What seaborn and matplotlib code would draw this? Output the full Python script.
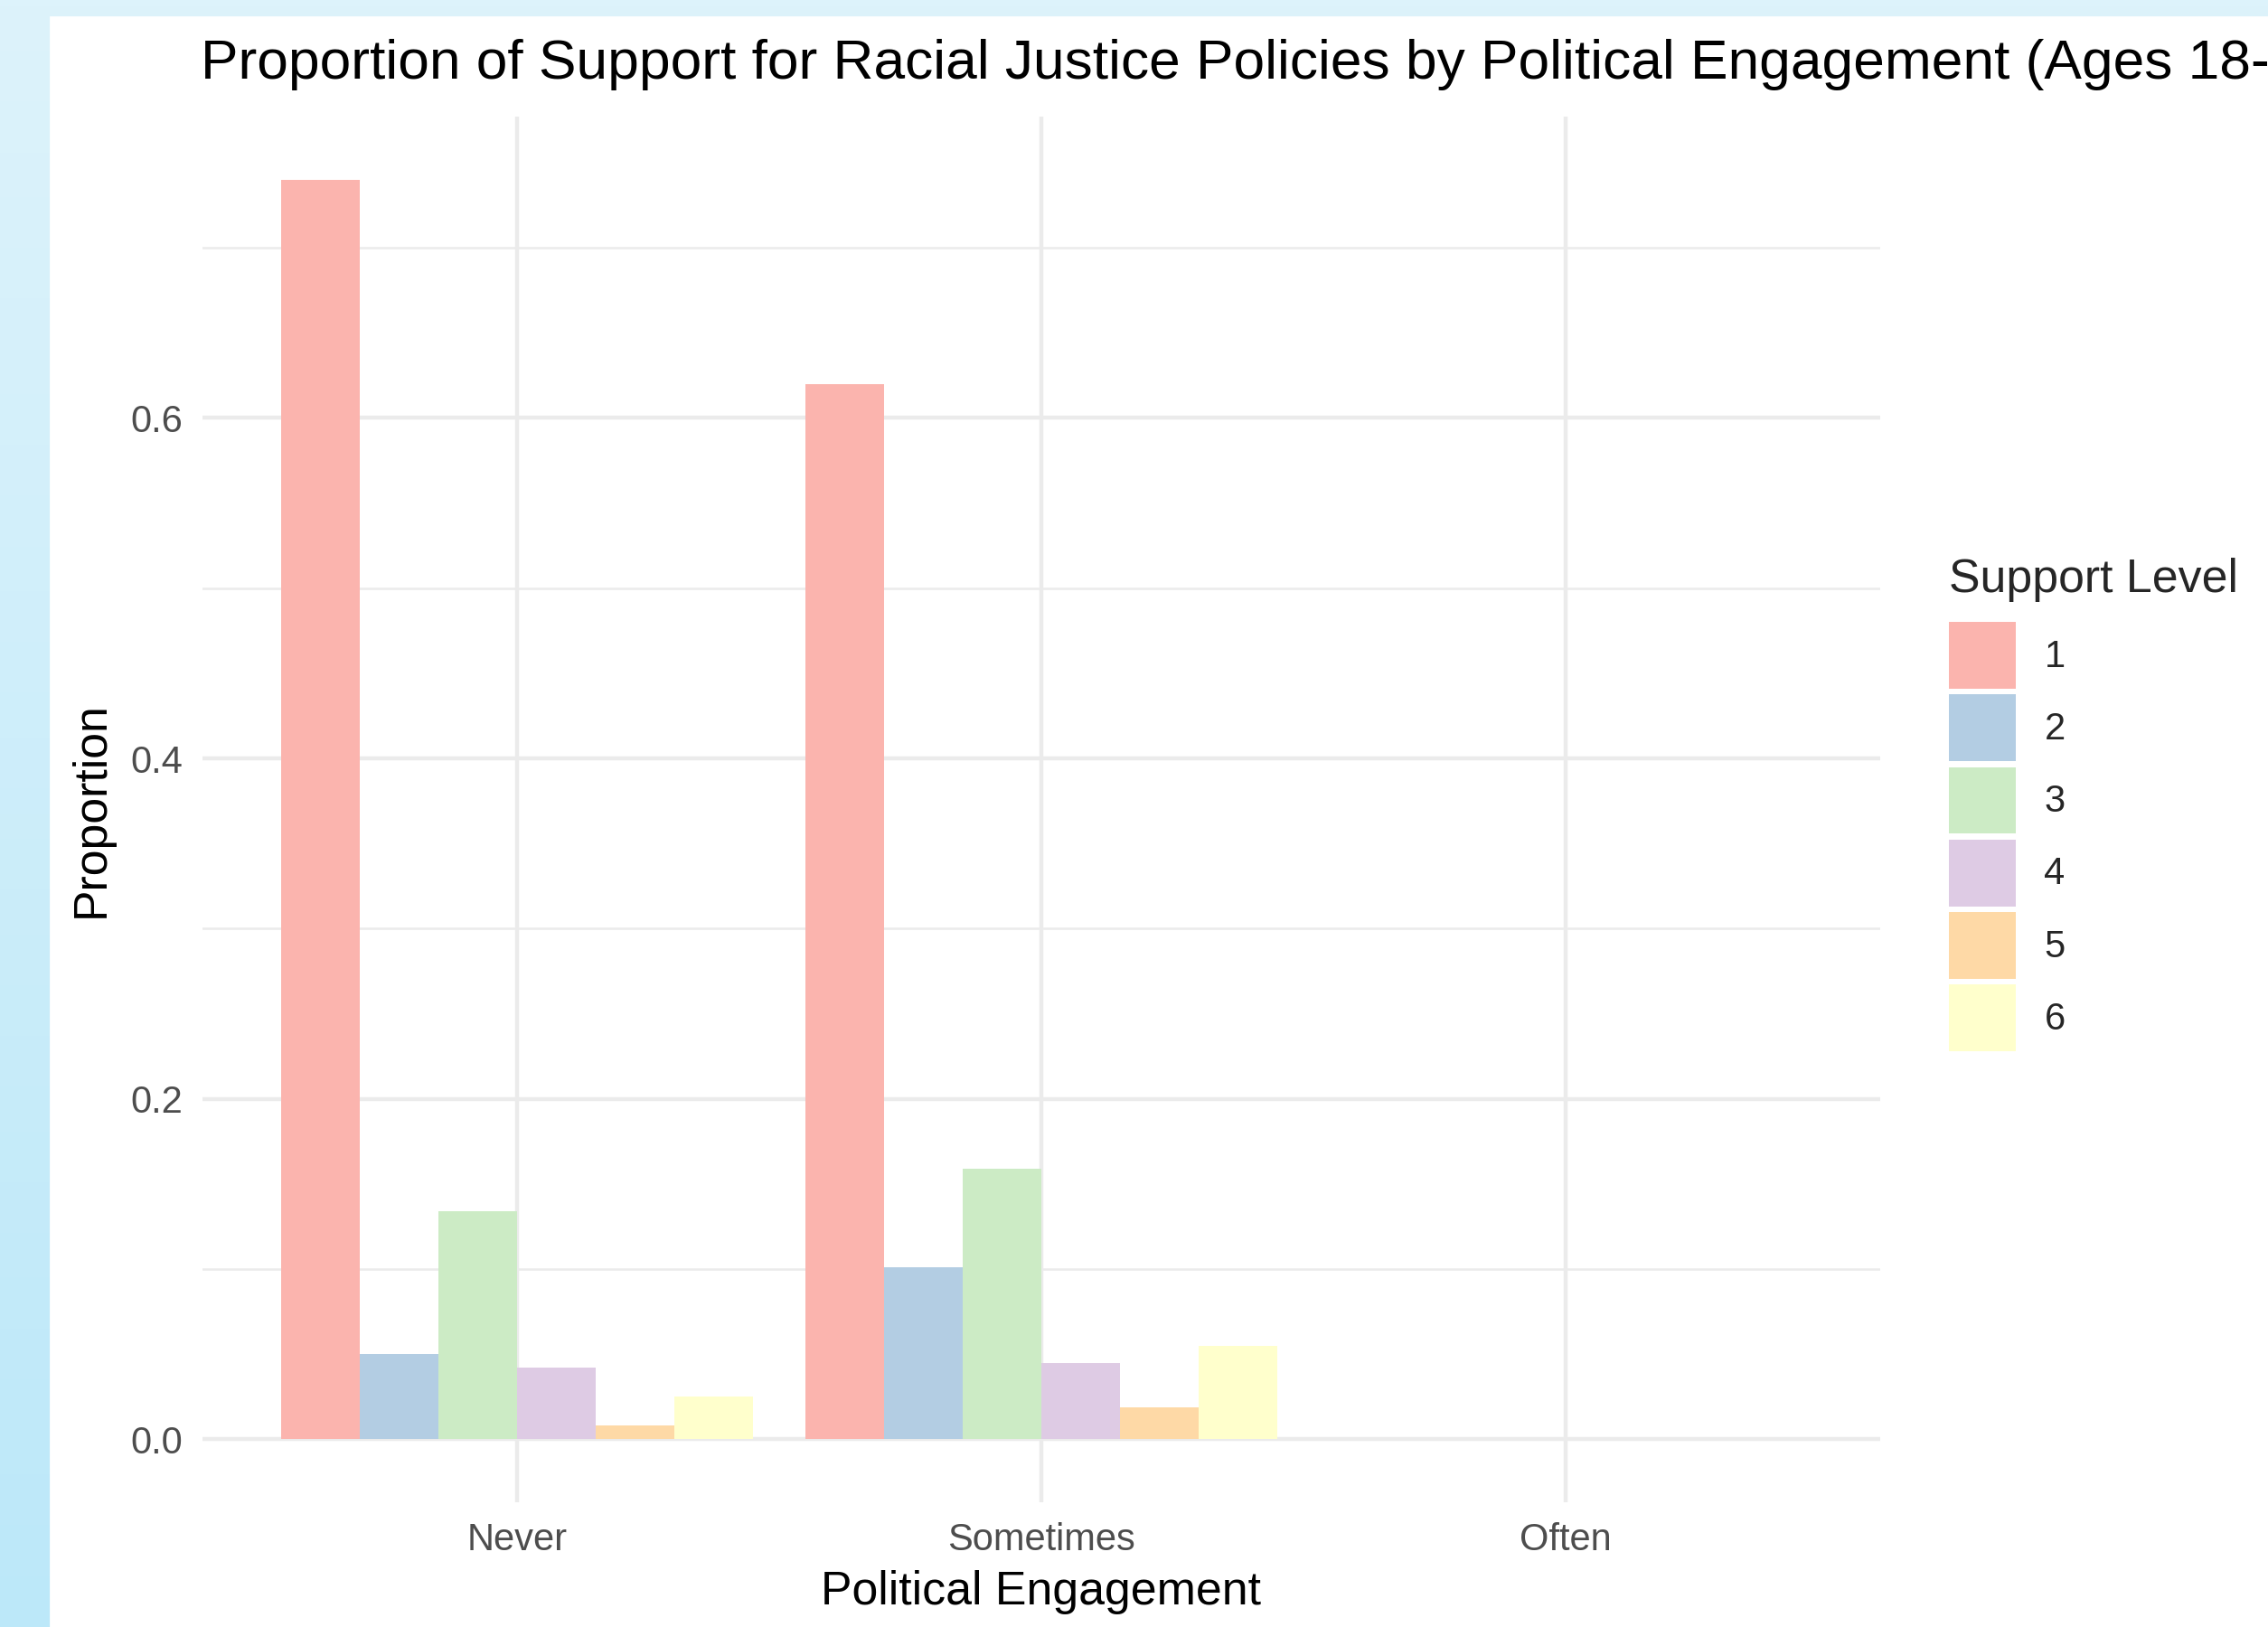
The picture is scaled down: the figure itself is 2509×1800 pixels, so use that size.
import numpy as np
import pandas as pd
import matplotlib
matplotlib.use("Agg")
import matplotlib.pyplot as plt
import seaborn as sns

engagement = ["Never", "Sometimes", "Often"]
support_levels = ["1", "2", "3", "4", "5", "6"]
never_vals = [0.740, 0.050, 0.134, 0.042, 0.008, 0.025]
sometimes_vals = [0.620, 0.101, 0.159, 0.045, 0.019, 0.055]
often_vals = [0.0, 0.0, 0.0, 0.0, 0.0, 0.0]
pastel1 = ["#FBB4AE", "#B3CDE3", "#CCEBC5", "#DECBE4", "#FED9A6", "#FFFFCC"]

rows = []
for eng, vals in zip(engagement, [never_vals, sometimes_vals, often_vals]):
    for lvl, v in zip(support_levels, vals):
        rows.append({"Political Engagement": eng, "Support Level": lvl, "Proportion": v})
df = pd.DataFrame(rows)

sns.set_theme(style="white")
plt.rcParams["font.family"] = ["Liberation Sans", "DejaVu Sans"]

W, H = 2509, 1800
DPI = 200
fig = plt.figure(figsize=(W / DPI, H / DPI), dpi=DPI)

# light blue gradient background with a white card on top
bg = fig.add_axes([0, 0, 1, 1], zorder=-10)
grad = np.linspace(0, 1, 256).reshape(-1, 1)
top_c = np.array([0xDD, 0xF3, 0xFB]) / 255
bot_c = np.array([0xBC, 0xE8, 0xF9]) / 255
img = top_c + (bot_c - top_c) * grad[..., None]
bg.imshow(img, aspect="auto", extent=[0, 1, 0, 1], origin="upper")
bg.add_patch(plt.Rectangle((56 / W, 0), 1, 1 - 19 / H, color="white", transform=bg.transAxes))
bg.set_xlim(0, 1)
bg.set_ylim(0, 1)
bg.axis("off")

ax_top, ax_bot = 129, 1662
ax = fig.add_axes([224 / W, 1 - ax_bot / H, (2080 - 224) / W, (ax_bot - ax_top) / H])
ax.set_facecolor("none")

sns.barplot(data=df, x="Political Engagement", y="Proportion", hue="Support Level",
            order=engagement, hue_order=support_levels, palette=pastel1,
            width=0.9, saturation=1, linewidth=0, ax=ax, legend=True)

ax.set_xlim(-0.6, 2.6)
ax.set_ylim(-0.037, 0.777)
ax.set_yticks([0.0, 0.2, 0.4, 0.6])
ax.set_yticks([0.1, 0.3, 0.5, 0.7], minor=True)
ax.set_yticklabels(["0.0", "0.2", "0.4", "0.6"])
ax.grid(True, which="major", axis="both", color="#EBEBEB", linewidth=1.6)
ax.grid(True, which="minor", axis="y", color="#EBEBEB", linewidth=0.9)
ax.set_axisbelow(True)
for s in ax.spines.values():
    s.set_visible(False)
ax.tick_params(axis="both", which="both", length=0, labelsize=15, labelcolor="#4D4D4D")
ax.tick_params(axis="x", pad=8)
ax.tick_params(axis="y", pad=8)

ax_h = ax_bot - ax_top
ax.set_xlabel("Political Engagement", fontsize=18.7, color="black")
ax.xaxis.label.set_va("center")
ax.xaxis.set_label_coords(0.5, (ax_bot - 1762) / ax_h)
ax.set_ylabel("Proportion", fontsize=18.7, color="black")
ax.yaxis.label.set_va("center")
ax.yaxis.set_label_coords((101 - 224) / 1856, 0.5)

fig.text(222 / W, 1 - 71 / H,
         "Proportion of Support for Racial Justice Policies by Political Engagement (Ages 18-24)",
         fontsize=22.4, ha="left", va="center", color="black")

leg = ax.legend(title="Support Level", loc="upper left",
                bbox_to_anchor=(2156 / W, 1 - 617 / H), bbox_transform=fig.transFigure,
                frameon=False, fontsize=15, title_fontsize=18.7,
                handlelength=1.78, handleheight=2.35, labelspacing=0.15,
                handletextpad=0.75, borderaxespad=0, borderpad=0)
leg._legend_box.align = "left"
leg._legend_box.sep = 0.15 * 15 + 5.8

fig.savefig("out.png", dpi=DPI)
